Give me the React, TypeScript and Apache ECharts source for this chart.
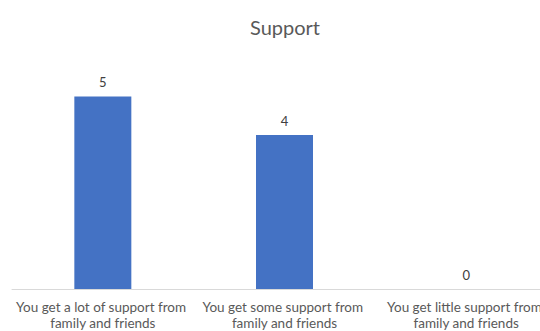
import React, { useEffect, useRef } from "react";
import * as echarts from "echarts";

const categories = [
  "You get a lot of support from family and friends",
  "You get some support from family and friends",
  "You get little support from family and friends",
];
const values = [5, 4, 0];
const titleText = "Support";

export default function App() {
  const ref = useRef<HTMLDivElement>(null);
  useEffect(() => {
    if (!ref.current) return;
    const chart = echarts.init(ref.current, undefined, { renderer: "svg" });
    chart.setOption({
      animation: false,
      backgroundColor: "#ffffff",
      title: {
        text: titleText,
        left: "center",
        top: 12,
        textStyle: { fontFamily: "Lato", fontSize: 20, fontWeight: "normal", color: "#595959" },
      },
      grid: { left: 12, right: 13, top: 58, bottom: 40, containLabel: false },
      xAxis: {
        type: "category",
        data: categories,
        axisLine: { lineStyle: { color: "#d9d9d9", width: 1 } },
        axisTick: { show: false },
        axisLabel: {
          interval: 0,
          margin: 10,
          fontFamily: "Lato",
          fontSize: 13.5,
          color: "#595959",
          lineHeight: 16,
          width: 180,
          overflow: "break",
        },
      },
      yAxis: {
        type: "value",
        min: 0,
        max: 6,
        show: false,
        splitLine: { show: false },
      },
      series: [
        {
          type: "bar",
          data: values,
          barWidth: 57,
          itemStyle: { color: "#4472C4" },
          label: {
            show: true,
            position: "top",
            distance: 8,
            fontFamily: "Lato",
            fontSize: 13,
            color: "#404040",
          },
        },
      ],
    });
    return () => chart.dispose();
  }, []);
  return (
    <div style={{ position: "fixed", left: 0, top: 0, width: 540, height: 331, overflow: "hidden", background: "#fff" }}>
      <div ref={ref} style={{ width: 570, height: 331 }} />
    </div>
  );
}
